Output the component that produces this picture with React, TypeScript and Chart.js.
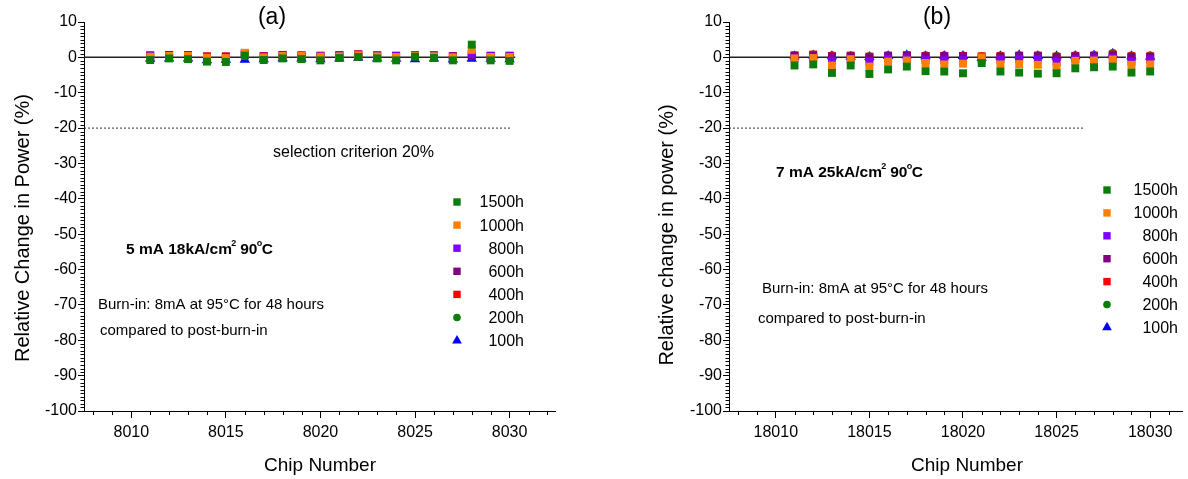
import React, { useEffect, useRef } from 'react';
import { Chart, registerables } from 'chart.js';
Chart.register(...registerables);

// ---------- data ----------
const chipsA = [8011, 8012, 8013, 8014, 8015, 8016, 8017, 8018, 8019, 8020, 8021, 8022, 8023, 8024, 8025, 8026, 8027, 8028, 8029, 8030];
const chipsB = [18011, 18012, 18013, 18014, 18015, 18016, 18017, 18018, 18019, 18020, 18021, 18022, 18023, 18024, 18025, 18026, 18027, 18028, 18029, 18030];

const seriesLabels = ['1500h', '1000h', '800h', '600h', '400h', '200h', '100h'];
const seriesColors = ['#0a7d0a', '#ff8000', '#8000ff', '#800080', '#ff0000', '#0a7d0a', '#0000ff'];
const seriesShapes = ['rect', 'rect', 'rect', 'rect', 'rect', 'circle', 'triangle'];

// panel (a)
const a1500 = [-0.75, -0.3, -0.5, -1.2, -1.3, 0.5, -0.75, -0.3, -0.5, -0.85, -0.2, 0.1, -0.3, -0.85, 0.2, -0.2, -0.85, 3.6, -0.85, -1.0];
const a1000 = [0.2, 0.4, 0.4, -0.1, -0.2, 1.3, 0.0, 0.4, 0.4, 0.2, 0.3, 0.6, 0.3, 0.1, 0.4, 0.3, 0.0, 2.1, 0.1, 0.1];
const a800 = [0.4, 0.5, 0.5, 0.1, 0.0, 1.0, 0.1, 0.5, 0.4, 0.3, 0.5, 0.7, 0.5, 0.3, 0.5, 0.5, 0.2, 1.0, 0.3, 0.3];
const a600 = [0.5, 0.6, 0.6, 0.2, 0.2, 0.9, 0.3, 0.6, 0.5, 0.4, 0.6, 0.8, 0.5, 0.4, 0.5, 0.5, 0.3, 0.5, 0.4, 0.4];
const a400 = [0.6, 0.7, 0.6, 0.3, 0.3, 1.1, 0.4, 0.7, 0.6, 0.5, 0.6, 0.9, 0.6, 0.5, 0.6, 0.6, 0.4, 0.7, 0.5, 0.5];
const a200 = [0.0, 0.1, 0.0, -0.3, -0.4, 0.3, -0.2, 0.1, 0.0, -0.2, 0.1, 0.3, 0.1, -0.2, 0.2, 0.1, -0.3, 0.3, -0.2, -0.3];
const a100 = [-0.4, -0.3, -0.3, -0.8, -0.7, -0.7, -0.5, -0.3, -0.3, -0.5, -0.3, -0.1, -0.3, -0.4, -0.5, -0.3, -0.6, -0.4, -0.4, -0.5];

// panel (b)
const b1500 = [-2.3, -2.0, -4.4, -2.3, -4.7, -3.4, -2.6, -3.9, -4.0, -4.5, -1.6, -4.0, -4.3, -4.6, -4.5, -3.1, -2.8, -2.6, -4.3, -4.0];
const b1000 = [-0.3, -0.2, -2.3, -0.5, -2.6, -1.2, -0.9, -1.6, -2.0, -1.8, 0.0, -2.0, -1.9, -2.1, -2.6, -1.0, -0.9, -0.6, -2.1, -2.0];
const b800 = [-0.2, -0.1, -1.0, -0.6, -1.2, -0.4, -0.3, -0.8, -0.8, -0.8, -0.6, -0.6, -0.5, -0.5, -1.3, -0.5, -0.3, -0.2, -1.2, -0.6];
const b600 = [0.4, 0.5, 0.2, 0.3, 0.0, 0.4, 0.5, 0.3, 0.4, 0.3, 0.1, 0.2, 0.4, 0.4, 0.1, 0.3, 0.4, 0.6, 0.1, 0.1];
const b400 = [0.6, 0.8, 0.4, 0.5, 0.2, 0.5, 0.6, 0.4, 0.4, 0.4, 0.3, 0.3, 0.5, 0.5, 0.2, 0.4, 0.5, 0.8, 0.3, 0.3];
const b200 = [0.6, 0.8, 0.6, 0.5, 0.3, 0.6, 0.7, 0.6, 0.6, 0.5, 0.3, 0.5, 0.6, 0.6, 0.4, 0.6, 0.7, 1.2, 0.5, 0.5];
const b100 = [0.3, 0.5, 0.3, 0.2, 0.1, 0.4, 0.6, 0.3, 0.4, 0.4, -0.2, 0.3, 0.6, 0.4, 0.3, 0.4, 0.5, 1.0, 0.3, 0.2];

const yTicks = [10, 0, -10, -20, -30, -40, -50, -60, -70, -80, -90, -100];
const xTicksA = [8010, 8015, 8020, 8025, 8030];
const xTicksB = [18010, 18015, 18020, 18025, 18030];
const xRangeA = [8007.5, 8032.4];
const xRangeB = [18007.5, 18031.7];
const zeroLineA = [8007.5, 8030.3];
const zeroLineB = [18007.5, 18028.7];
const criterionLineA = [8007.5, 8030.1];
const criterionLineB = [18007.5, 18026.5];
const criterionValue = -20;

const FONT = '"Liberation Sans", Arial, sans-serif';

type Panel = {
  chips: number[];
  series: number[][];
  xTicks: number[];
  xRange: number[];
  zeroLine: number[];
  critLine: number[];
  yWidth: number;
  padRight: number;
  tag: string;
  tagX: number;
  yTitle: string;
  yTitleX: number;
  yTitleY: number;
  xTitleX: number;
  xTitleY: number;
  cond: string[];
  condX: number;
  condY: number;
  burnX: number;
  burnY: number;
  compX: number;
  compY: number;
  crit: boolean;
  legX: number;
  legRight: number;
  legY: number;
  legStep: number;
};

const panels: Panel[] = [
  {
    chips: chipsA,
    series: [a1500, a1000, a800, a600, a400, a200, a100],
    xTicks: xTicksA, xRange: xRangeA, zeroLine: zeroLineA, critLine: criterionLineA,
    yWidth: 84, padRight: 39,
    tag: '(a)', tagX: 272,
    yTitle: 'Relative Change in Power (%)', yTitleX: 23, yTitleY: 228,
    xTitleX: 320, xTitleY: 466,
    cond: ['5 mA 18kA/cm', '2', ' 90', 'o', 'C'], condX: 126, condY: 250,
    burnX: 98, burnY: 305, compX: 100, compY: 331,
    crit: true,
    legX: 457, legRight: 524, legY: 202, legStep: 23.1,
  },
  {
    chips: chipsB,
    series: [b1500, b1000, b800, b600, b400, b200, b100],
    xTicks: xTicksB, xRange: xRangeB, zeroLine: zeroLineB, critLine: criterionLineB,
    yWidth: 135, padRight: 2,
    tag: '(b)', tagX: 343,
    yTitle: 'Relative change in power (%)', yTitleX: 73, yTitleY: 235,
    xTitleX: 373, xTitleY: 466,
    cond: ['7 mA 25kA/cm', '2', ' 90', 'o', 'C'], condX: 182, condY: 173,
    burnX: 168, burnY: 289, compX: 164, compY: 319,
    crit: false,
    legX: 513, legRight: 584, legY: 190, legStep: 22.9,
  },
];

function shapeRadius(shape: string) {
  if (shape === 'rect') return 5.6;
  if (shape === 'circle') return 4;
  return 6;
}

function drawMarker(ctx: CanvasRenderingContext2D, shape: string, x: number, y: number, color: string) {
  ctx.fillStyle = color;
  ctx.beginPath();
  if (shape === 'rect') {
    const s = 3.7;
    ctx.rect(x - s, y - s, 2 * s, 2 * s);
  } else if (shape === 'circle') {
    ctx.arc(x, y, 3.8, 0, Math.PI * 2);
  } else {
    const r = 5.6;
    ctx.moveTo(x, y - r);
    ctx.lineTo(x + r * Math.sin(Math.PI * 2 / 3), y + r * 0.5);
    ctx.lineTo(x - r * Math.sin(Math.PI * 2 / 3), y + r * 0.5);
    ctx.closePath();
  }
  ctx.fill();
}

function makeChart(canvas: HTMLCanvasElement, p: Panel) {
  const datasets: any[] = p.series.map((vals, i) => ({
    type: 'scatter',
    label: seriesLabels[i],
    data: p.chips.map((c, j) => ({ x: c, y: vals[j] })),
    pointStyle: seriesShapes[i],
    pointRadius: shapeRadius(seriesShapes[i]),
    pointBackgroundColor: seriesColors[i],
    pointBorderWidth: 0,
    borderWidth: 0,
    showLine: false,
  }));
  datasets.push({
    type: 'line',
    label: 'zero',
    data: [{ x: p.zeroLine[0], y: 0 }, { x: p.zeroLine[1], y: 0 }],
    borderColor: '#222',
    borderWidth: 1.5,
    pointRadius: 0,
    order: 10,
  });
  datasets.push({
    type: 'line',
    label: 'criterion',
    data: [{ x: p.critLine[0], y: criterionValue }, { x: p.critLine[1], y: criterionValue }],
    borderColor: '#333',
    borderWidth: 1,
    borderDash: [2, 2],
    pointRadius: 0,
    order: 10,
  });

  const overlay = {
    id: 'overlay',
    afterDraw(chart: any) {
      const ctx: CanvasRenderingContext2D = chart.ctx;
      const xs = chart.scales.x;
      const ys = chart.scales.y;
      const area = chart.chartArea;
      ctx.save();
      // minor ticks
      ctx.strokeStyle = '#000';
      ctx.lineWidth = 1;
      ctx.beginPath();
      for (let v = Math.ceil(ys.min); v <= Math.floor(ys.max); v++) {
        if (v % 10 === 0) continue;
        const y = Math.round(ys.getPixelForValue(v)) + 0.5;
        ctx.moveTo(area.left - 3.5, y);
        ctx.lineTo(area.left, y);
      }
      for (let v = Math.ceil(xs.min); v <= Math.floor(xs.max); v++) {
        if (v % 5 === 0) continue;
        const x = Math.round(xs.getPixelForValue(v)) + 0.5;
        ctx.moveTo(x, area.bottom);
        ctx.lineTo(x, area.bottom + 4);
      }
      ctx.stroke();

      ctx.fillStyle = '#000';
      // panel tag
      ctx.font = `23px ${FONT}`;
      ctx.textAlign = 'center';
      ctx.textBaseline = 'middle';
      ctx.fillText(p.tag, p.tagX, 18);
      // axis titles
      ctx.font = `19px ${FONT}`;
      ctx.fillText('Chip Number', p.xTitleX, p.xTitleY);
      ctx.save();
      ctx.translate(p.yTitleX, p.yTitleY);
      ctx.rotate(-Math.PI / 2);
      ctx.font = `20px ${FONT}`;
      ctx.fillText(p.yTitle, 0, 0);
      ctx.restore();

      // annotations
      ctx.textAlign = 'left';
      if (p.crit) {
        ctx.font = `16px ${FONT}`;
        ctx.fillText('selection criterion 20%', 273, 153);
      }
      // condition text with superscripts
      let cx = p.condX;
      p.cond.forEach((seg, i) => {
        const sup = i === 1 || i === 3;
        ctx.font = sup ? `bold 9px ${FONT}` : `bold 15.5px ${FONT}`;
        ctx.fillText(seg, cx, sup ? p.condY - 6 : p.condY);
        cx += ctx.measureText(seg).width - (sup ? 0.5 : 0.6);
      });
      ctx.font = `15px ${FONT}`;
      ctx.fillText('Burn-in: 8mA at 95\u00B0C for 48 hours', p.burnX, p.burnY);
      ctx.fillText('compared to post-burn-in', p.compX, p.compY);

      // legend
      ctx.font = `16px ${FONT}`;
      ctx.textAlign = 'right';
      chart.data.datasets.slice(0, seriesLabels.length).forEach((ds: any, i: number) => {
        const y = p.legY + i * p.legStep;
        drawMarker(ctx, ds.pointStyle, p.legX, y, ds.pointBackgroundColor);
        ctx.fillStyle = '#000';
        ctx.fillText(ds.label, p.legRight, y + 1);
      });
      ctx.restore();
    },
  };

  return new Chart(canvas, {
    type: 'scatter',
    data: { datasets },
    options: {
      animation: false,
      responsive: false,
      maintainAspectRatio: false,
      layout: { padding: { top: 22, right: p.padRight, left: 0, bottom: 0 } },
      plugins: { legend: { display: false }, tooltip: { enabled: false }, title: { display: false } },
      scales: {
        x: {
          type: 'linear',
          min: p.xRange[0],
          max: p.xRange[1],
          afterBuildTicks: (s: any) => { s.ticks = p.xTicks.map((v) => ({ value: v })); },
          afterFit: (s: any) => { s.height = 68; },
          ticks: {
            font: { family: FONT, size: 16 }, color: '#000', padding: 5, maxRotation: 0, autoSkip: false,
            callback: (v: any) => String(v),
          },
          grid: { display: true, drawOnChartArea: false, drawTicks: true, tickLength: 7, color: '#000', tickColor: '#000' },
          border: { display: true, color: '#000', width: 1 },
        },
        y: {
          type: 'linear',
          min: -100,
          max: 10,
          afterBuildTicks: (s: any) => { s.ticks = yTicks.map((v) => ({ value: v })); },
          afterFit: (s: any) => { s.width = p.yWidth; },
          ticks: { font: { family: FONT, size: 16 }, color: '#000', padding: 1, autoSkip: false, callback: (v: any) => String(v) },
          grid: { display: true, drawOnChartArea: false, drawTicks: true, tickLength: 6, color: '#000', tickColor: '#000' },
          border: { display: true, color: '#000', width: 1 },
        },
      },
    },
    plugins: [overlay],
  } as any);
}

export default function App() {
  const refA = useRef<HTMLCanvasElement>(null);
  const refB = useRef<HTMLCanvasElement>(null);
  useEffect(() => {
    document.body.style.margin = '0';
    const charts: Chart[] = [];
    if (refA.current) charts.push(makeChart(refA.current, panels[0]));
    if (refB.current) charts.push(makeChart(refB.current, panels[1]));
    return () => charts.forEach((c) => c.destroy());
  }, []);
  return (
    <div style={{ position: 'relative', width: 1188, height: 479, background: '#fff' }}>
      <canvas ref={refA} width={594} height={479} style={{ position: 'absolute', left: 0, top: 0, width: 594, height: 479 }} />
      <canvas ref={refB} width={594} height={479} style={{ position: 'absolute', left: 594, top: 0, width: 594, height: 479 }} />
    </div>
  );
}
